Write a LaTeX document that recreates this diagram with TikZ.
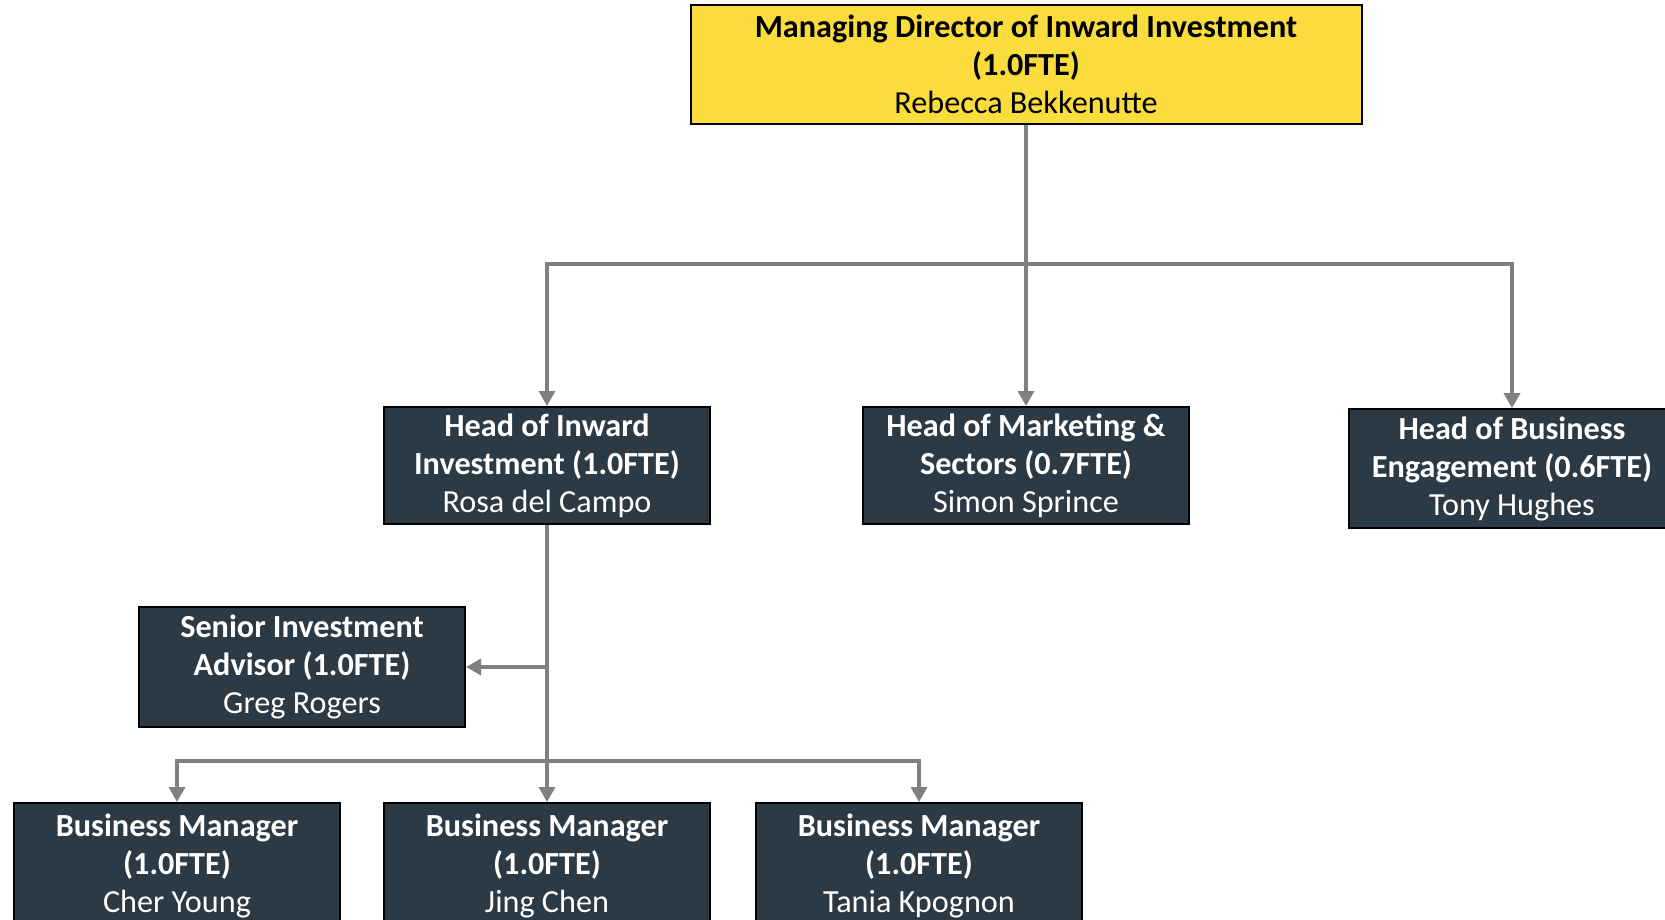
\documentclass[tikz,border=0pt]{standalone}
\usepackage{fontspec}
\setmainfont{Carlito}
\usepackage{xcolor}
\usetikzlibrary{positioning,arrows.meta}

\definecolor{mdyellow}{RGB}{250,220,60}
\definecolor{staffslate}{RGB}{44,58,70}
\definecolor{linkgrey}{RGB}{128,128,128}

\begin{document}
\begin{tikzpicture}[
	font=\fontsize{16.1}{19}\selectfont,
	director/.style={
		align=center,
		rectangle,
		draw=black,
		line width=1pt,
		fill=mdyellow,
		text=black,
		minimum width=335.5pt,
		minimum height=59.5pt,
		inner sep=2pt
	},
	staff/.style={
		align=center,
		rectangle,
		draw=black,
		line width=1pt,
		fill=staffslate,
		text=white,
		minimum width=163pt,
		minimum height=58.5pt,
		inner sep=2pt
	},
	manager/.style={
		staff,
		minimum height=62.5pt
	},
	link/.style={
		draw=linkgrey,
		line width=1.7pt
	},
	arr/.style={
		link,
		-{Triangle[length=7.5pt,width=8pt]}
	}
	]
	\useasboundingbox (0,0) rectangle (832.5pt,-460pt);
	
	\node (md) [director] at (513pt,-32.25pt) {\textbf{Managing Director of Inward Investment}\\\textbf{(1.0FTE)}\\Rebecca Bekkenutte};
	
	% heads
	\node (hms) [staff, below=140.5pt of md] {\textbf{Head of Marketing \&}\\\textbf{Sectors (0.7FTE)}\\Simon Sprince};
	\node (hii) [staff, left=75.5pt of hms] {\textbf{Head of Inward}\\\textbf{Investment (1.0FTE)}\\Rosa del Campo};
	\node (hbe) [staff, right=79pt of hms, minimum height=59.5pt, yshift=-1.6pt] {\textbf{Head of Business}\\\textbf{Engagement (0.6FTE)}\\Tony Hughes};
	
	\draw[arr] (md.south) -- (hms.north);
	\draw[arr] (md.south) -- ++(0,-69.5pt) -| (hii.north);
	\draw[arr] (md.south) -- ++(0,-69.5pt) -| (hbe.north);
	
	% inward investment team
	\node (sia) [staff, below left=40.5pt and -41.5pt of hii, minimum height=60pt] {\textbf{Senior Investment}\\\textbf{Advisor (1.0FTE)}\\Greg Rogers};
	\node (bm2) [manager, below=138.5pt of hii] {\textbf{Business Manager}\\\textbf{(1.0FTE)}\\Jing Chen};
	\node (bm1) [manager, left=21pt of bm2] {\textbf{Business Manager}\\\textbf{(1.0FTE)}\\Cher Young};
	\node (bm3) [manager, right=22pt of bm2] {\textbf{Business Manager}\\\textbf{(1.0FTE)}\\Tania Kpognon};
	
	\draw[arr] (hii.south) -- (bm2.north);
	\draw[arr] (hii.south |- sia.east) -- (sia.east);
	\draw[arr] (hii.south) -- ++(0,-118pt) -| (bm1.north);
	\draw[arr] (hii.south) -- ++(0,-118pt) -| (bm3.north);
	
\end{tikzpicture}
\end{document}
